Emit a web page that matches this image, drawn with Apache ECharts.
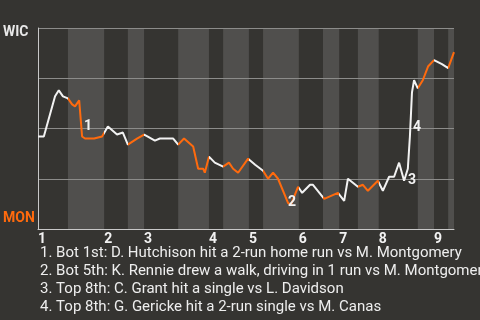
<!DOCTYPE html>
<html><head><meta charset="utf-8">
<script src="https://cdn.jsdelivr.net/npm/echarts@6/dist/echarts.min.js"></script>
<style>html,body{margin:0;padding:0;background:#353431;}#c{width:480px;height:320px;}</style>
</head><body><div id="c"></div>
<script>
// game progress (0..100) and WIC win probability (%)
const progress = [0, 1.4, 4.1, 5.0, 6.0, 7.2, 8.2, 8.9, 9.9, 10.6, 11.3, 12.3, 13.5, 15.4, 16.8, 19.0, 20.4, 21.6, 23.8, 25.5,
  26.4, 28.1, 29.3, 32.5, 33.7, 35.1, 37.3, 38.5, 39.7, 40.1, 41.1, 42.5, 44.5, 45.9, 46.9, 48.1, 50.5, 52.2, 54.1, 55.3,
  56.5, 57.7, 60.1, 60.8, 62.5, 63.5, 65.4, 66.1, 68.8, 72.1, 73.6, 74.5, 75.7, 76.9, 78.1, 79.3, 81.7, 82.9, 84.4, 85.6,
  86.8, 88.0, 88.9, 89.4, 89.9, 90.4, 91.3, 92.5, 93.8, 95.2, 97.1, 98.6, 99.3, 100];
const winProb = [46, 46, 66, 69, 66, 65, 62, 61, 64, 46, 45, 45, 45, 46, 51, 47, 48, 42, 45, 47,
  46, 44, 45, 45, 42, 45, 41, 30, 30, 28, 36, 33, 31, 33, 30, 28, 35, 32, 29, 25,
  28, 25, 13, 12, 21, 18, 22, 22, 15, 18, 14, 25, 23, 21, 22, 19, 24, 19, 26, 26,
  33, 24, 30, 46, 68, 74, 70, 74, 81, 84, 82, 80, 84, 88];
// start of each half inning (top 1st, bottom 1st, top 2nd, ...)
const halfStarts = [0, 7.2, 15.9, 21.6, 25.5, 33.7, 41.1, 44.5, 50.7, 54.1, 62.7, 68.5, 72.4, 76.9, 81.9, 91.3, 95.2, 98.6];
const gameEnd = 100;
const inningLabels = ['1', '2', '3', '4', '5', '6', '7', '8', '9'];
const teamTop = 'WIC';
const teamBottom = 'MON';
const eventIndex = [9, 43, 61, 63];
const eventLabels = ['1', '2', '3', '4'];
const eventNotes = [
  '1. Bot 1st: D. Hutchison hit a 2-run home run vs M. Montgomery',
  '2. Bot 5th: K. Rennie drew a walk, driving in 1 run vs M. Montgomery',
  '3. Top 8th: C. Grant hit a single vs L. Davidson',
  '4. Top 8th: G. Gericke hit a 2-run single vs M. Canas'
];

const WHITE = '#f2f2f2', ORANGE = '#ff6a0d', BAND = '#504f4d';
const inningStarts = halfStarts.filter((v, i) => i % 2 === 0);
const bottomHalves = [];
const pieces = [];
halfStarts.forEach((s, i) => {
  const e = i + 1 < halfStarts.length ? halfStarts[i + 1] : gameEnd;
  if (i % 2 === 1) bottomHalves.push([s, e]);
  pieces.push({ gte: s, lt: i + 1 < halfStarts.length ? e : gameEnd + 1, color: i % 2 ? ORANGE : WHITE });
});
const lineData = progress.map((x, i) => [x, winProb[i]]);
const labelOffsets = [[6, -10], [1, -2], [8, 0], [7, -9]];

const chart = echarts.init(document.getElementById('c'), null, { renderer: 'canvas' });
chart.setOption({
  backgroundColor: '#353431',
  animation: false,
  grid: { left: 38, top: 28, width: 416, height: 201 },
  xAxis: {
    type: 'value', min: 0, max: gameEnd,
    axisLine: { show: true, lineStyle: { color: '#c8c8c8', width: 1 } },
    axisTick: { show: false },
    splitLine: { show: false },
    axisLabel: {
      customValues: inningStarts,
      formatter: v => inningLabels[inningStarts.indexOf(v)] || '',
      align: 'left', margin: 3, color: '#f2f2f2',
      fontFamily: 'Roboto', fontWeight: 'bold', fontSize: 14
    }
  },
  yAxis: {
    type: 'value', min: 0, max: 100, interval: 25,
    axisLine: { show: true, lineStyle: { color: '#c8c8c8', width: 1 } },
    axisTick: { show: false },
    axisLabel: { show: false },
    splitLine: { show: true, lineStyle: { color: '#8c8c8a', width: 1 } }
  },
  visualMap: { show: false, type: 'piecewise', dimension: 0, seriesIndex: 1, pieces: pieces },
  series: [
    {
      type: 'custom', z: -1, silent: true,
      data: bottomHalves,
      renderItem: (params, api) => {
        const p0 = api.coord([api.value(0), 100]);
        const p1 = api.coord([api.value(1), 0]);
        return { type: 'rect', shape: { x: p0[0], y: p0[1], width: p1[0] - p0[0], height: p1[1] - p0[1] }, style: { fill: BAND } };
      }
    },
    {
      type: 'line', data: lineData, showSymbol: false, symbol: 'none',
      lineStyle: { width: 2 },
      markPoint: {
        symbol: 'circle', symbolSize: 0,
        label: { show: true, color: '#f2f2f2', fontFamily: 'Roboto', fontWeight: 'bold', fontSize: 14 },
        data: eventIndex.map((idx, k) => ({
          coord: [progress[idx], winProb[idx]],
          label: { formatter: eventLabels[k], offset: labelOffsets[k] }
        }))
      }
    }
  ],
  graphic: [
    { type: 'text', left: 3, top: 25, style: { text: teamTop, fill: '#e8e8e8', font: 'bold 14px Roboto' } },
    { type: 'text', left: 3, top: 211, style: { text: teamBottom, fill: ORANGE, font: 'bold 14px Roboto' } },
    { type: 'text', left: 40, top: 244, style: { text: eventNotes.join('\n'), fill: '#eeeeee', font: '15px Roboto', lineHeight: 18 } }
  ]
});
</script>
</body></html>
